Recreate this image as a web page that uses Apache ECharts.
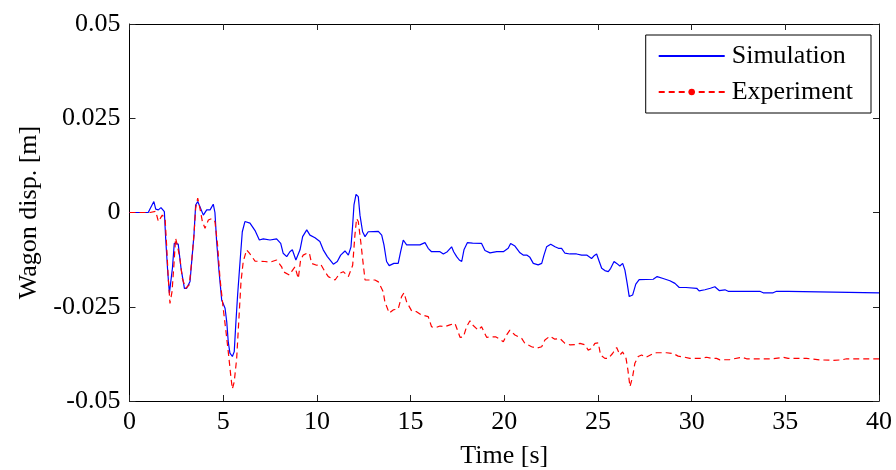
<!DOCTYPE html>
<html>
<head>
<meta charset="utf-8">
<script src="https://cdn.jsdelivr.net/npm/echarts@6/dist/echarts.min.js"></script>
<style>
  html, body { margin: 0; padding: 0; background: #fff; }
  #chart { width: 896px; height: 470px; }
</style>
</head>
<body>
<div id="chart"></div>
<script>
var simTime = [0, 1.0, 1.1, 1.3, 1.4, 1.54, 1.68, 1.86, 1.93, 2.04, 2.13, 2.21, 2.29, 2.39, 2.6, 2.75, 2.93, 3.05, 3.23, 3.32,
    3.44, 3.53, 3.64, 3.76, 3.94, 4.12, 4.3, 4.47, 4.56, 4.65, 4.78, 4.92, 5.1, 5.19, 5.27, 5.36, 5.49, 5.59, 5.67, 5.77,
    5.9, 6.02, 6.16, 6.43, 6.7, 6.93, 7.14, 7.5, 7.85, 8.07, 8.2, 8.39, 8.56, 8.69, 8.88, 9.1, 9.24, 9.46, 9.55, 9.63,
    9.9, 10.16, 10.34, 10.56, 10.88, 11.09, 11.27, 11.5, 11.68, 11.82, 11.91, 11.98, 12.09, 12.21, 12.3, 12.44, 12.57, 12.74, 13.28, 13.46,
    13.58, 13.72, 13.86, 14.11, 14.34, 14.47, 14.61, 14.79, 15.5, 15.77, 15.94, 16.12, 16.57, 16.75, 16.96, 17.19, 17.3, 17.46, 17.6, 17.73,
    17.85, 18.03, 18.31, 18.79, 18.97, 19.24, 19.6, 19.95, 20.21, 20.34, 20.57, 20.84, 21.01, 21.2, 21.37, 21.55, 21.81, 22.0, 22.12, 22.26,
    22.48, 22.71, 22.89, 23.06, 23.24, 23.51, 23.86, 24.13, 24.4, 24.66, 24.79, 24.93, 25.07, 25.2, 25.37, 25.55, 25.68, 25.86, 26.0, 26.17,
    26.32, 26.44, 26.56, 26.67, 26.85, 27.02, 27.2, 27.95, 28.16, 28.48, 28.84, 29.11, 29.34, 29.7, 30.27, 30.4, 30.71, 31.0, 31.24, 31.47,
    31.78, 31.95, 33.64, 33.82, 34.35, 34.53, 35.15, 35.24, 40];
var simDisp = [0, 0, 0.001, 0.0029, 0.0009, 0.0007, 0.0013, 0.0002, -0.0068, -0.0157, -0.0214, -0.021, -0.0148, -0.0082, -0.0084, -0.0148, -0.0201, -0.0201, -0.0183, -0.013,
    -0.006, 0.002, 0.0029, 0.0015, -0.0007, 0.0007, 0.0007, 0.0022, 0, -0.0077, -0.0157, -0.0232, -0.0254, -0.029, -0.0343, -0.0373, -0.0382, -0.0369, -0.0298, -0.0219,
    -0.013, -0.0051, -0.0024, -0.0028, -0.0048, -0.0073, -0.007, -0.0073, -0.007, -0.0082, -0.0108, -0.0117, -0.0104, -0.0099, -0.0126, -0.0099, -0.0064, -0.0046, -0.0042, -0.006,
    -0.0067, -0.0077, -0.0099, -0.0117, -0.0137, -0.013, -0.0113, -0.0102, -0.0113, -0.0091, -0.0033, 0.002, 0.0048, 0.0042, -0.0007, -0.0051, -0.0064, -0.0051, -0.005, -0.006,
    -0.0086, -0.013, -0.0141, -0.0135, -0.0135, -0.0104, -0.0073, -0.0086, -0.0086, -0.008, -0.0095, -0.0104, -0.0104, -0.011, -0.0104, -0.0091, -0.0104, -0.0117, -0.0126, -0.013,
    -0.0099, -0.008, -0.0081, -0.0082, -0.0101, -0.0107, -0.0104, -0.0104, -0.0095, -0.0082, -0.0089, -0.0107, -0.0113, -0.0113, -0.0119, -0.0135, -0.0139, -0.0135, -0.0113, -0.0091,
    -0.0084, -0.0091, -0.0095, -0.0095, -0.0108, -0.011, -0.011, -0.0113, -0.0113, -0.0122, -0.0115, -0.011, -0.013, -0.0148, -0.0154, -0.0157, -0.0148, -0.013, -0.0135, -0.0142,
    -0.0135, -0.0153, -0.0188, -0.0223, -0.0219, -0.019, -0.0178, -0.0177, -0.017, -0.0175, -0.0181, -0.0188, -0.0199, -0.0199, -0.0201, -0.0208, -0.0205, -0.0201, -0.0197, -0.0207,
    -0.0205, -0.0209, -0.0209, -0.0213, -0.0213, -0.0209, -0.0209, -0.0213, -0.0213];

var expTime = [0, 1.1, 1.4, 1.54, 1.75, 1.9, 1.98, 2.07, 2.16, 2.27, 2.37, 2.46, 2.55, 2.69, 2.82, 3.0, 3.19, 3.3, 3.44, 3.53,
    3.64, 3.76, 3.89, 4.03, 4.21, 4.4, 4.56, 4.7, 4.83, 5.0, 5.15, 5.27, 5.42, 5.49, 5.59, 5.72, 5.84, 5.95, 6.07, 6.25,
    6.4, 6.7, 7.23, 7.5, 7.85, 8.12, 8.21, 8.53, 8.65, 8.83, 9.01, 9.13, 9.27, 9.47, 9.6, 9.72, 9.99, 10.2, 10.43, 10.61,
    10.97, 11.23, 11.41, 11.68, 11.91, 12.03, 12.12, 12.21, 12.34, 12.44, 12.57, 12.74, 13.1, 13.28, 13.54, 13.63, 13.86, 14.09, 14.34, 14.52,
    14.65, 14.79, 15.06, 15.32, 15.59, 15.94, 16.12, 16.3, 16.57, 16.83, 17.1, 17.37, 17.46, 17.64, 17.82, 17.99, 18.17, 18.31, 18.61, 18.79,
    19.06, 19.33, 19.56, 19.77, 19.95, 20.12, 20.3, 20.57, 20.93, 21.1, 21.46, 21.73, 22.0, 22.17, 22.44, 22.7, 22.97, 23.24, 23.51, 23.86,
    24.04, 24.31, 24.48, 24.66, 24.84, 25.02, 25.14, 25.37, 25.55, 25.78, 26.0, 26.17, 26.32, 26.5, 26.6, 26.71, 26.85, 26.97, 27.15, 27.33,
    27.56, 27.95, 28.13, 28.66, 29.02, 29.28, 29.64, 29.91, 30.53, 30.8, 31.07, 31.33, 31.51, 32.04, 32.67, 32.93, 34.35, 34.89, 35.15, 36.13,
    36.85, 37.56, 38.0, 38.27, 40];
var expDisp = [0, 0, 0.0003, -0.0024, -0.0007, -0.0016, -0.0086, -0.0175, -0.0241, -0.021, -0.0139, -0.0068, -0.0086, -0.0122, -0.0175, -0.0201, -0.0192, -0.0139, -0.006, 0.0011,
    0.0038, 0.0011, -0.0024, -0.0042, -0.002, -0.0016, -0.0024, -0.0086, -0.0175, -0.0254, -0.0316, -0.0369, -0.044, -0.0468, -0.0449, -0.0387, -0.0281, -0.0184, -0.013, -0.0099,
    -0.0108, -0.0129, -0.013, -0.0132, -0.0126, -0.0144, -0.0157, -0.0166, -0.0157, -0.0144, -0.0175, -0.0126, -0.0113, -0.0108, -0.0108, -0.0135, -0.014, -0.0137, -0.0157, -0.017,
    -0.0179, -0.0161, -0.0157, -0.017, -0.014, -0.006, -0.0016, -0.0024, -0.0077, -0.0122, -0.0179, -0.0179, -0.0179, -0.0184, -0.021, -0.0237, -0.0267, -0.0258, -0.0256, -0.0223,
    -0.0213, -0.0237, -0.0261, -0.0263, -0.0272, -0.0276, -0.0303, -0.0306, -0.0301, -0.0303, -0.0298, -0.0294, -0.0298, -0.0331, -0.033, -0.0303, -0.0287, -0.0298, -0.0312, -0.0303,
    -0.0331, -0.033, -0.033, -0.0336, -0.0343, -0.0325, -0.0312, -0.0325, -0.0334, -0.0347, -0.0356, -0.036, -0.0356, -0.0338, -0.0328, -0.0336, -0.0334, -0.0347, -0.0351, -0.035,
    -0.0347, -0.0351, -0.0365, -0.0361, -0.0347, -0.0346, -0.0378, -0.0387, -0.0387, -0.0374, -0.0358, -0.0378, -0.037, -0.0387, -0.0418, -0.0462, -0.0436, -0.04, -0.0382, -0.0378,
    -0.0384, -0.0374, -0.0372, -0.0372, -0.0374, -0.0381, -0.0384, -0.0387, -0.0387, -0.0384, -0.0387, -0.0387, -0.0391, -0.039, -0.0384, -0.0388, -0.0388, -0.0384, -0.0387, -0.0387,
    -0.0391, -0.0392, -0.0391, -0.0388, -0.0388];

var seriesNames = ['Simulation', 'Experiment'];
var xTicks = [0, 5, 10, 15, 20, 25, 30, 35, 40];
var yTickLabels = ['-0.05', '-0.025', '0', '0.025', '0.05'];

function zip(t, v) {
    var out = [];
    for (var i = 0; i < t.length; i++) out.push([t[i], v[i]]);
    return out;
}

var font = 'Liberation Serif';
var axisLine = { show: true, onZero: false, lineStyle: { color: '#000', width: 1 } };
var tick = { show: true, inside: true, length: 6, lineStyle: { color: '#222', width: 1 } };

var myChart = echarts.init(document.getElementById('chart'));
var option = {
    backgroundColor: '#fff',
    animation: false,
    grid: { left: 129.5, right: 17, top: 24, bottom: 69, outerBoundsMode: 'none', containLabel: false },
    legend: {
        data: [
            { name: seriesNames[0], itemStyle: { opacity: 0 } },
            { name: seriesNames[1] }
        ],
        orient: 'vertical',
        right: 25, top: 35,
        padding: [8, 18, 8, 12],
        itemGap: 10,
        itemWidth: 66, itemHeight: 8,
        borderColor: '#000', borderWidth: 1, borderRadius: 0,
        backgroundColor: '#fff',
        textStyle: { fontFamily: font, fontSize: 26, color: '#000', lineHeight: 26, padding: [0, 0, 0, 2] }
    },
    xAxis: [{
        type: 'value', min: 0, max: 40, interval: 5,
        name: 'Time [s]', nameLocation: 'middle', nameGap: 42,
        nameTextStyle: { fontFamily: font, fontSize: 26, color: '#000' },
        axisLine: axisLine, axisTick: tick, splitLine: { show: false },
        axisLabel: { fontFamily: font, fontSize: 26, color: '#000', margin: 8,
            formatter: function (v) { return xTicks.indexOf(v) >= 0 ? String(v) : ''; } }
    }, {
        type: 'value', min: 0, max: 40, interval: 5, position: 'top',
        axisLine: axisLine, axisTick: tick, axisLabel: { show: false }, splitLine: { show: false }
    }],
    yAxis: [{
        type: 'value', min: -0.05, max: 0.05, interval: 0.025,
        name: 'Wagon disp. [m]', nameLocation: 'middle', nameGap: 86,
        nameTextStyle: { fontFamily: font, fontSize: 26, color: '#000' },
        axisLine: axisLine, axisTick: tick, splitLine: { show: false },
        axisLabel: { fontFamily: font, fontSize: 26, color: '#000', margin: 9,
            formatter: function (v) { return yTickLabels[Math.round((v + 0.05) / 0.025)]; } }
    }, {
        type: 'value', min: -0.05, max: 0.05, interval: 0.025, position: 'right',
        axisLine: axisLine, axisTick: tick, axisLabel: { show: false }, splitLine: { show: false }
    }],
    series: [
        {
            name: seriesNames[0], type: 'line', data: zip(simTime, simDisp),
            symbol: 'none', smooth: false,
            lineStyle: { color: '#0000ff', width: 1.2 },
            itemStyle: { color: '#0000ff' }
        },
        {
            name: seriesNames[1], type: 'line', data: zip(expTime, expDisp),
            symbol: 'circle', symbolSize: 6, showSymbol: false,
            lineStyle: { color: '#ff0000', width: 1.2, type: [6, 4] },
            itemStyle: { color: '#ff0000' }
        }
    ]
};
myChart.setOption(option);
</script>
</body>
</html>
